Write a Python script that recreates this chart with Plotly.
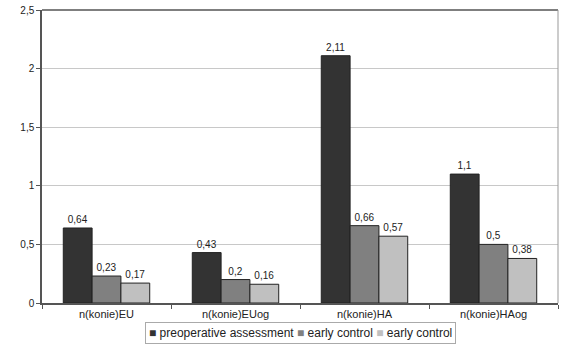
import plotly.graph_objects as go

categories = ["n(konie)EU", "n(konie)EUog", "n(konie)HA", "n(konie)HAog"]
preop = [0.64, 0.43, 2.11, 1.1]
early1 = [0.23, 0.2, 0.66, 0.5]
early2 = [0.17, 0.16, 0.57, 0.38]
series_names = ["preoperative assessment", "early control", "early control"]
series_colors = ["#333333", "#808080", "#c0c0c0"]
y_ticks = [0, 0.5, 1, 1.5, 2, 2.5]
y_tick_labels = ["0", "0,5", "1", "1,5", "2", "2,5"]

def fmt(v):
    return ("%g" % v).replace(".", ",")

series_values = [preop, early1, early2]

fig = go.Figure()
for name, vals, col in zip(series_names, series_values, series_colors):
    fig.add_trace(go.Bar(
        x=categories, y=vals, name=name,
        marker=dict(color=col, line=dict(color="#222222", width=1)),
        text=[fmt(v) for v in vals], textposition="outside",
        textfont=dict(size=10, color="#222222"),
        cliponaxis=False,
    ))

# compact legend box drawn as one text line (symbols coloured per series)
legend_text = " ".join(
    '<span style="color:%s">■</span> %s' % (c, n) for n, c in zip(series_names, series_colors)
)
fig.add_annotation(
    text=legend_text, xref="paper", yref="paper", x=0.5, y=-0.102,
    xanchor="center", yanchor="middle", showarrow=False,
    font=dict(size=12, color="#222222"),
    bordercolor="#aaaaaa", borderwidth=1, borderpad=3, bgcolor="white",
)

fig.update_layout(
    width=562, height=345,
    margin=dict(l=42, r=4, t=10, b=42, autoexpand=False),
    paper_bgcolor="white", plot_bgcolor="white",
    font=dict(family="Liberation Sans, Arial, sans-serif", size=10, color="#222222"),
    barmode="group", bargap=0.33, bargroupgap=0,
    showlegend=False,
)
fig.update_yaxes(range=[0, 2.5], tickvals=y_ticks, ticktext=y_tick_labels,
                 showgrid=True, gridcolor="#c8c8c8", gridwidth=1,
                 showline=True, linecolor="#555555", linewidth=1.5, mirror=False,
                 ticks="outside", ticklen=4, tickcolor="#555555", zeroline=False)
fig.update_xaxes(showline=True, linecolor="#555555", linewidth=1.5,
                 ticks="outside", tickson="boundaries", ticklen=4, tickcolor="#555555",
                 tickfont=dict(size=11))
# top and right border
fig.add_shape(type="line", xref="paper", yref="paper", x0=0, x1=1, y0=1, y1=1,
              line=dict(color="#555555", width=1.5))
fig.add_shape(type="line", xref="paper", yref="paper", x0=1, x1=1, y0=0, y1=1,
              line=dict(color="#999999", width=1))
fig.write_html("out.html", config={"displayModeBar": False},
               post_script="document.body.style.margin='0';document.body.style.overflow='hidden';")
